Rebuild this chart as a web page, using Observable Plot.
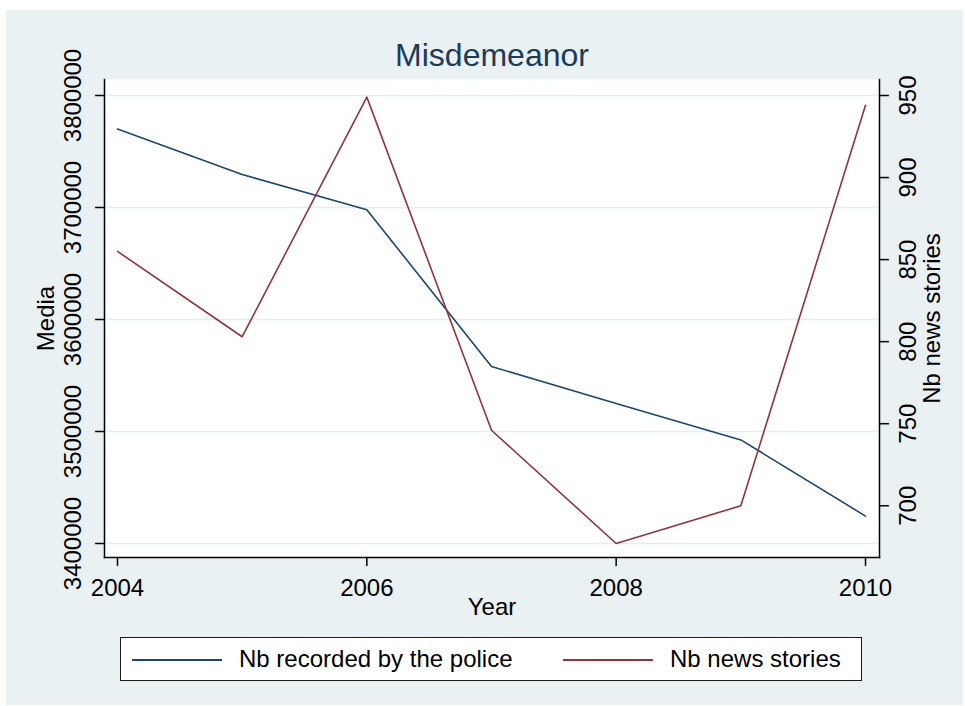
<!DOCTYPE html>
<html>
<head>
<meta charset="utf-8">
<script src="https://cdn.jsdelivr.net/npm/d3@7"></script>
<script src="https://cdn.jsdelivr.net/npm/@observablehq/plot@0.6"></script>
<style>
  html, body { margin: 0; padding: 0; background: #ffffff; }
  body { width: 965px; height: 706px; position: relative; overflow: hidden;
         font-family: "Liberation Sans", Arial, sans-serif; }
  #panel { position: absolute; left: 6px; top: 10px; width: 957px; height: 695px; background: #e9f1f3; }
  #chart { position: absolute; left: 0; top: 0; }
  #legend { position: absolute; left: 120px; top: 637px; width: 740px; height: 42px;
            background: #ffffff; border: 1.5px solid #1a1a1a; }
  #legend .swatch { position: absolute; top: 21px; width: 90px; height: 0; border-top: 2px solid; }
  #legend .label { position: absolute; top: 0; line-height: 42px; font-size: 24px; color: #000; white-space: nowrap; }
</style>
</head>
<body>
<div id="panel"></div>
<div id="chart"></div>
<div id="legend">
  <div class="swatch" style="left: 11px; border-color: #1a476f;"></div>
  <div class="label" style="left: 118px;">Nb recorded by the police</div>
  <div class="swatch" style="left: 442px; border-color: #90353b;"></div>
  <div class="label" style="left: 549px;">Nb news stories</div>
</div>
<script>
// Misdemeanor: offences recorded by the police vs. number of news stories, 2004–2010
const years = [2004, 2005, 2006, 2007, 2008, 2009, 2010];
const policeCounts = [3770000, 3729500, 3698000, 3558000, 3525000, 3492500, 3424500];
const newsStories = [855, 803, 949, 746, 677, 700, 944];

const yearTicks = [2004, 2006, 2008, 2010];
const policeTicks = [3400000, 3500000, 3600000, 3700000, 3800000];
const newsTicks = [700, 750, 800, 850, 900, 950];

// The news series sits on a second (right-hand) axis: rescale it onto the police axis
const newsToLeft = d3.scaleLinear()
  .domain([d3.min(newsStories), d3.max(newsTicks)])
  .range([d3.min(policeTicks), d3.max(policeTicks)]);

const rows = years.map((year, i) => ({year, police: policeCounts[i], news: newsStories[i]}));

const navy = "#1a476f";
const maroon = "#90353b";
const gridColor = "#e4edf0";

const chart = Plot.plot({
  width: 965,
  height: 706,
  marginTop: 79,
  marginBottom: 149,
  marginLeft: 104,
  marginRight: 86,
  style: {background: "transparent", fontFamily: "'Liberation Sans', Arial, sans-serif", fontSize: "24px", color: "#000"},
  x: {domain: [2004, 2010], insetLeft: 13, insetRight: 14},
  y: {domain: [3400000, 3800000], insetTop: 16, insetBottom: 14},
  marks: [
    Plot.frame({fill: "white", stroke: null}),
    Plot.ruleY(policeTicks, {stroke: gridColor, strokeWidth: 1.5}),
    Plot.lineY(rows, {x: "year", y: "police", stroke: navy, strokeWidth: 1.6}),
    Plot.lineY(rows, {x: "year", y: d => newsToLeft(d.news), stroke: maroon, strokeWidth: 1.6}),
    Plot.frame({anchor: "left", stroke: "#000", strokeWidth: 1.5}),
    Plot.frame({anchor: "bottom", stroke: "#000", strokeWidth: 1.5}),
    Plot.frame({anchor: "right", stroke: "#000", strokeWidth: 1.5}),
    Plot.axisX({ticks: yearTicks, tickSize: 9, tickPadding: 12, tickFormat: d => String(d), fontSize: 24, label: null, strokeWidth: 1.5}),
    Plot.axisY({anchor: "left", ticks: policeTicks, tickSize: 9, tickFormat: () => "", label: null, strokeWidth: 1.5}),
    Plot.axisY({anchor: "right", ticks: newsTicks.map(newsToLeft), tickSize: 9, tickFormat: () => "", label: null, strokeWidth: 1.5}),
    Plot.text(policeTicks, {y: d => d, text: d => String(d), frameAnchor: "left", dx: -31, rotate: -90, textAnchor: "middle", lineAnchor: "middle", fontSize: 24}),
    Plot.text(newsTicks, {y: d => newsToLeft(d), text: d => String(d), frameAnchor: "right", dx: 29, rotate: -90, textAnchor: "middle", lineAnchor: "middle", fontSize: 24}),
    Plot.text(["Year"], {text: d => d, frameAnchor: "bottom", dy: 50, lineAnchor: "middle", fontSize: 24}),
    Plot.text(["Media"], {text: d => d, frameAnchor: "left", dx: -58, rotate: -90, textAnchor: "middle", lineAnchor: "middle", fontSize: 24}),
    Plot.text(["Nb news stories"], {text: d => d, frameAnchor: "right", dx: 53, rotate: -90, textAnchor: "middle", lineAnchor: "middle", fontSize: 24}),
    Plot.text(["Misdemeanor"], {text: d => d, frameAnchor: "top", dy: -24, lineAnchor: "middle", fontSize: 32, fill: "#1c3a5e"})
  ]
});

document.getElementById("chart").append(chart);
</script>
</body>
</html>
